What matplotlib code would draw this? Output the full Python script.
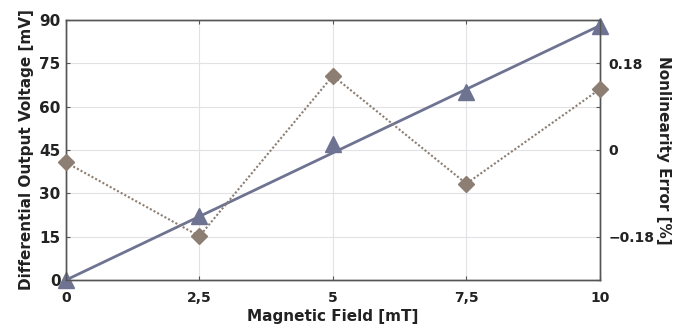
import matplotlib
matplotlib.use("Agg")
import matplotlib.pyplot as plt
import numpy as np

field = [0, 2.5, 5, 7.5, 10]
field_labels = ["0", "2,5", "5", "7,5", "10"]
voltage = [0, 22, 47, 65, 88]
fit_x = [0, 10]
fit_y = [0, 88]
nonlin = [-0.026, -0.179, 0.154, -0.070, 0.126]

left_ticks = [0, 15, 30, 45, 60, 75, 90]
right_ticks = [-0.27, -0.18, -0.09, 0, 0.09, 0.18, 0.27]
right_labels = ["", "\u22120.18", "", "0", "", "0.18", ""]

c_v = "#6f7392"
c_n = "#8c7e72"
spine_c = "#555555"

plt.rcParams['font.family'] = ['DejaVu Sans']
fig = plt.figure(figsize=(6.91, 3.31), dpi=100)
ax = fig.add_axes([0.0955, 0.154, 0.7725, 0.786])
ax2 = ax.twinx()

ax.set_xlim(0, 10)
ax.set_ylim(0, 90)
ax2.set_ylim(-0.27, 0.27)

ax.set_xticks(field)
ax.set_xticklabels(field_labels, fontsize=10, fontweight='bold', color='#222222')
ax.set_yticks(left_ticks)
ax.set_yticklabels([str(t) for t in left_ticks], fontsize=11, fontweight='bold', color='#222222')
ax2.set_yticks(right_ticks)
ax2.set_yticklabels(right_labels, fontsize=10, fontweight='bold', color='#222222')

ax.grid(True, color='#e2e2e6', linewidth=0.8)
ax.set_axisbelow(True)
for a in (ax, ax2):
    for s in a.spines.values():
        s.set_color(spine_c)
        s.set_linewidth(1.0)
ax.tick_params(axis='x', direction='in', length=3, color=spine_c, pad=8, top=True)
ax.tick_params(axis='y', direction='in', length=3, color=spine_c, pad=4)
ax2.tick_params(axis='y', direction='in', length=3, color=spine_c, pad=6)

ax.plot(fit_x, fit_y, color=c_v, linewidth=2, zorder=3)
ax.plot(field, voltage, linestyle='none', marker='^', markersize=12, color=c_v,
        clip_on=False, zorder=5)
ax2.plot(field, nonlin, linestyle=(0, (1, 1)), linewidth=1.5, color=c_n,
         marker='D', markersize=8, clip_on=False, zorder=4)

ax.set_xlabel("Magnetic Field [mT]", fontsize=11, fontweight='bold', labelpad=3, color='#222222')
ax.set_ylabel("Differential Output Voltage [mV]", fontsize=11, fontweight='bold', labelpad=4, color='#222222')
ax2.set_ylabel("Nonlinearity Error [%]", fontsize=11, fontweight='bold', rotation=270,
               labelpad=12, color='#222222')

fig.savefig("out.png", dpi=100)
